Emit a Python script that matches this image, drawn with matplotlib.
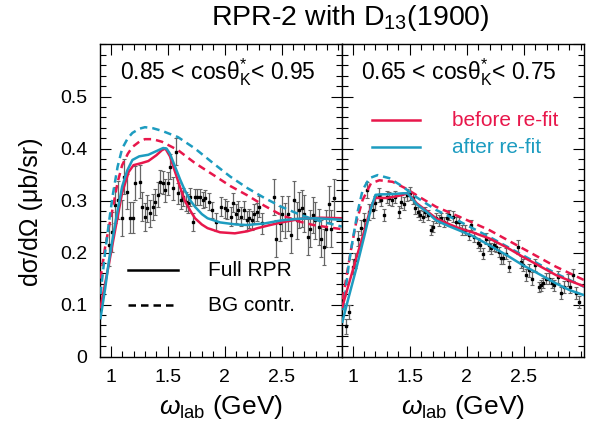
import numpy as np
import matplotlib
matplotlib.use("Agg")
import matplotlib.pyplot as plt
from matplotlib.lines import Line2D
from matplotlib.ticker import MultipleLocator

plt.rcParams['font.family'] = ['Liberation Sans', 'DejaVu Sans']
plt.rcParams['mathtext.fontset'] = 'custom'
plt.rcParams['mathtext.rm'] = 'Liberation Sans'
plt.rcParams['mathtext.it'] = 'Liberation Sans:italic'

RED = '#e8174b'
CYAN = '#1d9cc0'

# ---- left panel: 0.85 < cos < 0.95 ----
left_x = [0.985, 1.015, 1.037, 1.067, 1.096, 1.116, 1.145, 1.168, 1.194, 1.217,
          1.26, 1.276, 1.298, 1.319, 1.342, 1.368, 1.386, 1.415, 1.435, 1.458,
          1.478, 1.502, 1.522, 1.545, 1.571, 1.594, 1.617, 1.638, 1.658, 1.681,
          1.70, 1.72, 1.74, 1.76, 1.785, 1.81, 1.83, 1.86, 1.89, 1.927,
          1.971, 2.0, 2.023, 2.052, 2.072, 2.096, 2.122, 2.145, 2.168, 2.194,
          2.217, 2.24, 2.261, 2.284, 2.304, 2.333, 2.435, 2.455, 2.484, 2.507,
          2.53, 2.556, 2.585, 2.609, 2.632, 2.655, 2.678, 2.701, 2.73, 2.754,
          2.777, 2.797, 2.826, 2.846, 2.87, 2.89, 2.913, 2.936, 2.957]
left_y = [0.215, 0.240, 0.291, 0.301, 0.267, 0.346, 0.317, 0.267, 0.267, 0.334,
          0.336, 0.288, 0.269, 0.285, 0.276, 0.288, 0.298, 0.311, 0.336, 0.334,
          0.320, 0.333, 0.365, 0.324, 0.394, 0.314, 0.301, 0.307, 0.298, 0.295,
          0.307, 0.259, 0.307, 0.307, 0.307, 0.301, 0.304, 0.298, 0.282, 0.259,
          0.288, 0.285, 0.282, 0.269, 0.296, 0.275, 0.282, 0.269, 0.282, 0.262,
          0.266, 0.262, 0.275, 0.278, 0.288, 0.256, 0.307, 0.227, 0.256, 0.275,
          0.262, 0.275, 0.233, 0.302, 0.262, 0.282, 0.285, 0.275, 0.230, 0.246,
          0.272, 0.262, 0.249, 0.227, 0.211, 0.246, 0.293, 0.246, 0.304]
left_err = [0.040, 0.038, 0.035, 0.036, 0.035, 0.034, 0.034, 0.030, 0.030, 0.032,
            0.032, 0.028, 0.027, 0.026, 0.026, 0.025, 0.025, 0.024, 0.022, 0.022,
            0.022, 0.022, 0.024, 0.022, 0.026, 0.020, 0.018, 0.018, 0.018, 0.018,
            0.018, 0.018, 0.016, 0.016, 0.016, 0.016, 0.016, 0.016, 0.016, 0.018,
            0.018, 0.018, 0.018, 0.018, 0.018, 0.018, 0.018, 0.018, 0.018, 0.018,
            0.018, 0.018, 0.018, 0.018, 0.020, 0.020, 0.035, 0.035, 0.033, 0.033,
            0.033, 0.033, 0.033, 0.035, 0.035, 0.035, 0.035, 0.035, 0.035, 0.035,
            0.035, 0.035, 0.035, 0.035, 0.035, 0.035, 0.035, 0.035, 0.038]

lc_x = [0.91, 0.95, 0.985, 1.044, 1.10, 1.145, 1.19, 1.25, 1.33, 1.40, 1.46, 1.49,
        1.52, 1.565, 1.61, 1.65, 1.70, 1.74, 1.80, 1.85, 1.96, 2.1, 2.2, 2.35, 2.5,
        2.65, 2.8, 3.03]
lc_full = [0.074, 0.13, 0.186, 0.262, 0.327, 0.358, 0.378, 0.385, 0.388, 0.395,
           0.401, 0.400, 0.390, 0.365, 0.340, 0.320, 0.300, 0.288, 0.274, 0.266,
           0.258, 0.254, 0.253, 0.256, 0.262, 0.265, 0.266, 0.263]
lr_x = [0.91, 0.95, 0.985, 1.044, 1.10, 1.157, 1.20, 1.27, 1.33, 1.40, 1.45, 1.48,
        1.52, 1.565, 1.61, 1.65, 1.70, 1.74, 1.80, 1.85, 1.96, 2.09, 2.2, 2.29, 2.4,
        2.5, 2.67, 2.85, 3.03]
lr_full = [0.095, 0.14, 0.18, 0.25, 0.315, 0.355, 0.368, 0.372, 0.376, 0.387,
           0.397, 0.400, 0.385, 0.355, 0.325, 0.300, 0.280, 0.266, 0.254, 0.247,
           0.239, 0.237, 0.241, 0.247, 0.253, 0.258, 0.265, 0.267, 0.266]
lbg_x = [0.91, 0.95, 0.985, 1.02, 1.06, 1.10, 1.15, 1.19, 1.25, 1.30, 1.37, 1.45,
         1.59, 1.74, 1.91, 2.05, 2.2, 2.35, 2.5, 2.65, 2.78, 2.9, 3.03]
lc_bg = [0.12, 0.20, 0.26, 0.314, 0.365, 0.400, 0.420, 0.430, 0.438, 0.441, 0.439,
         0.434, 0.422, 0.400, 0.370, 0.346, 0.324, 0.305, 0.288, 0.274, 0.264,
         0.257, 0.250]
lr_bg = [0.15, 0.21, 0.25, 0.288, 0.335, 0.368, 0.390, 0.403, 0.413, 0.418, 0.418,
         0.413, 0.397, 0.372, 0.348, 0.328, 0.310, 0.290, 0.272, 0.260, 0.253,
         0.249, 0.245]

# ---- right panel: 0.65 < cos < 0.75 ----
right_x = [0.941, 0.97, 1.0, 1.02, 1.044, 1.073, 1.102, 1.122, 1.146, 1.175,
           1.199, 1.228, 1.248, 1.277, 1.298, 1.321, 1.345, 1.374, 1.403, 1.424,
           1.453, 1.476, 1.503, 1.526, 1.549, 1.57, 1.59, 1.614, 1.637, 1.658,
           1.687, 1.707, 1.731, 1.754, 1.775, 1.804, 1.824, 1.848, 1.877, 1.906,
           1.935, 1.959, 1.988, 2.017, 2.038, 2.067, 2.096, 2.117, 2.14, 2.169,
           2.193, 2.213, 2.236, 2.257, 2.28, 2.301, 2.321, 2.345, 2.368, 2.447,
           2.476, 2.497, 2.52, 2.543, 2.573, 2.602, 2.631, 2.652, 2.672, 2.695,
           2.719, 2.748, 2.768, 2.798, 2.827, 2.848, 2.886, 2.906, 2.929, 2.953,
           2.982]
right_y = [0.058, 0.086, 0.173, 0.185, 0.227, 0.248, 0.262, 0.320, 0.278, 0.282,
           0.295, 0.311, 0.301, 0.272, 0.307, 0.304, 0.301, 0.307, 0.278, 0.298,
           0.294, 0.311, 0.314, 0.304, 0.285, 0.278, 0.272, 0.269, 0.278, 0.272,
           0.243, 0.250, 0.266, 0.262, 0.266, 0.259, 0.266, 0.272, 0.269, 0.259,
           0.259, 0.243, 0.243, 0.234, 0.253, 0.230, 0.218, 0.214, 0.198, 0.227,
           0.214, 0.208, 0.214, 0.211, 0.201, 0.189, 0.189, 0.198, 0.173, 0.211,
           0.182, 0.176, 0.157, 0.166, 0.150, 0.176, 0.134, 0.137, 0.141, 0.150,
           0.150, 0.141, 0.137, 0.153, 0.122, 0.134, 0.147, 0.134, 0.157, 0.122,
           0.105]
right_err = [0.014, 0.014, 0.014, 0.014, 0.014, 0.014, 0.014, 0.016, 0.016, 0.016,
             0.014, 0.014, 0.012, 0.012, 0.012, 0.012, 0.012, 0.012, 0.012, 0.012,
             0.012, 0.012, 0.012, 0.010, 0.010, 0.010, 0.010, 0.010, 0.010, 0.010,
             0.010, 0.010, 0.010, 0.010, 0.010, 0.010, 0.010, 0.010, 0.010, 0.010,
             0.010, 0.010, 0.010, 0.010, 0.010, 0.010, 0.010, 0.010, 0.010, 0.010,
             0.010, 0.010, 0.010, 0.010, 0.010, 0.010, 0.010, 0.010, 0.010, 0.014,
             0.012, 0.012, 0.012, 0.012, 0.012, 0.012, 0.010, 0.010, 0.010, 0.010,
             0.010, 0.010, 0.010, 0.012, 0.012, 0.012, 0.012, 0.012, 0.012, 0.012,
             0.012]

rc_x = [0.91, 0.96, 1.03, 1.10, 1.16, 1.20, 1.25, 1.30, 1.38, 1.44, 1.48, 1.52,
        1.56, 1.65, 1.73, 1.83, 1.93, 2.05, 2.2, 2.35, 2.49, 2.64, 2.78, 2.9, 3.03]
rc_full = [0.067, 0.110, 0.168, 0.230, 0.285, 0.311, 0.312, 0.312, 0.313, 0.314,
           0.314, 0.304, 0.293, 0.278, 0.262, 0.252, 0.243, 0.232, 0.214, 0.195,
           0.176, 0.158, 0.141, 0.128, 0.118]
rr_full = [0.096, 0.135, 0.188, 0.240, 0.288, 0.305, 0.305, 0.305, 0.308, 0.311,
           0.314, 0.306, 0.295, 0.280, 0.266, 0.256, 0.247, 0.239, 0.227, 0.210,
           0.192, 0.174, 0.157, 0.146, 0.135]
rc_bg_x = [0.918, 0.965, 1.0, 1.044, 1.087, 1.146, 1.219, 1.321, 1.438, 1.555,
           1.731, 1.935, 2.2, 2.49, 2.78, 3.03]
rc_bg = [0.089, 0.176, 0.224, 0.279, 0.320, 0.343, 0.349, 0.343, 0.327, 0.307,
         0.282, 0.260, 0.230, 0.195, 0.160, 0.134]
rr_bg_x = [0.912, 0.985, 1.029, 1.087, 1.16, 1.234, 1.35, 1.468, 1.584, 1.731,
           1.935, 2.2, 2.49, 2.78, 3.03]
rr_bg = [0.110, 0.205, 0.256, 0.301, 0.333, 0.339, 0.336, 0.323, 0.307, 0.288,
         0.269, 0.243, 0.208, 0.173, 0.147]

fig = plt.figure(figsize=(5.95, 4.36), dpi=100)
axL = fig.add_axes([0.168, 0.182, 0.4065, 0.716])
axR = fig.add_axes([0.5745, 0.182, 0.4075, 0.716])

def style(ax, labels_y):
    ax.set_xlim(0.905, 3.03)
    ax.set_ylim(0, 0.6)
    ax.xaxis.set_major_locator(MultipleLocator(0.5))
    ax.xaxis.set_minor_locator(MultipleLocator(0.1))
    ax.yaxis.set_major_locator(MultipleLocator(0.1))
    ax.yaxis.set_minor_locator(MultipleLocator(0.02))
    ax.tick_params(which='both', direction='in', top=True, right=True, width=0.8)
    ax.tick_params(which='major', length=8)
    ax.tick_params(which='minor', length=4)
    ax.tick_params(axis='x', labelsize=14, pad=9)
    ax.tick_params(axis='y', labelsize=14, pad=9)
    ax.set_xticks([1, 1.5, 2, 2.5])
    ax.set_xticklabels(['1', '1.5', '2', '2.5'])
    if labels_y:
        ax.set_yticks([0, 0.1, 0.2, 0.3, 0.4, 0.5])
        ax.set_yticklabels(['0', '0.1', '0.2', '0.3', '0.4', '0.5'])
    else:
        ax.set_yticklabels([])
    for s in ax.spines.values():
        s.set_linewidth(1.0)
    ax.set_xlabel(r'$\omega_{\rm lab}$ (GeV)', fontsize=19, labelpad=5)

style(axL, True)
style(axR, False)

ekw = dict(fmt='s', color='black', ms=2.0, ecolor='#666666', elinewidth=0.9,
           capsize=1.5, capthick=0.8, zorder=2)
axL.errorbar(left_x, left_y, yerr=left_err, **ekw)
axR.errorbar(right_x, right_y, yerr=right_err, **ekw)

lw = 1.8
axL.plot(lbg_x, lr_bg, color=RED, lw=lw, ls=(0, (3, 2)), zorder=3)
axL.plot(lbg_x, lc_bg, color=CYAN, lw=lw, ls=(0, (3, 2)), zorder=3)
axL.plot(lr_x, lr_full, color=RED, lw=lw, zorder=3)
axL.plot(lc_x, lc_full, color=CYAN, lw=lw, zorder=3)

axR.plot(rr_bg_x, rr_bg, color=RED, lw=lw, ls=(0, (3, 2)), zorder=3)
axR.plot(rc_bg_x, rc_bg, color=CYAN, lw=lw, ls=(0, (3, 2)), zorder=3)
axR.plot(rc_x, rr_full, color=RED, lw=lw, zorder=3)
axR.plot(rc_x, rc_full, color=CYAN, lw=lw, zorder=3)

# panel labels
axL.text(0.486, 0.912, r'0.85 < cosθ$_{\rm K}^{*}$< 0.95', transform=axL.transAxes,
         ha='center', va='center', fontsize=16.5)
axR.text(0.484, 0.912, r'0.65 < cosθ$_{\rm K}^{*}$< 0.75', transform=axR.transAxes,
         ha='center', va='center', fontsize=16.5)

# legends
axL.add_line(Line2D([0.116, 0.323], [0.277, 0.277], transform=axL.transAxes,
                    color='black', lw=lw))
axL.add_line(Line2D([0.116, 0.323], [0.165, 0.165], transform=axL.transAxes,
                    color='black', lw=lw, ls=(0, (3, 2))))
axL.text(0.447, 0.277, 'Full RPR', transform=axL.transAxes, va='center', fontsize=15)
axL.text(0.447, 0.165, 'BG contr.', transform=axL.transAxes, va='center', fontsize=15)

axR.add_line(Line2D([0.125, 0.323], [0.758, 0.758], transform=axR.transAxes,
                    color=RED, lw=lw))
axR.add_line(Line2D([0.125, 0.323], [0.671, 0.671], transform=axR.transAxes,
                    color=CYAN, lw=lw))
axR.text(0.455, 0.758, 'before re-fit', transform=axR.transAxes, va='center',
         fontsize=15, color=RED)
axR.text(0.455, 0.671, 'after re-fit', transform=axR.transAxes, va='center',
         fontsize=15, color=CYAN)

fig.text(0.588, 0.958, r'RPR-2 with D$_{13}$(1900)', ha='center', va='center', fontsize=20.5)
fig.text(0.052, 0.515, 'dσ/dΩ (μb/sr)', rotation=90, ha='center', va='center', fontsize=18)

fig.savefig('out.png', dpi=100)
